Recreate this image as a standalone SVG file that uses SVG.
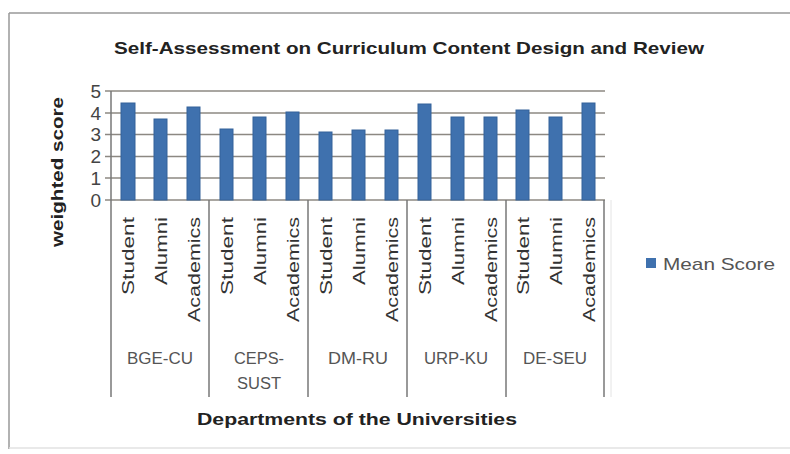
<svg xmlns="http://www.w3.org/2000/svg" width="790" height="454" viewBox="0 0 790 454">
<style>
.t{font-family:"Liberation Sans",Arial,sans-serif;fill:#222;font-weight:bold}
.ax{font-family:"Liberation Sans",Arial,sans-serif;fill:#444;font-size:19px}
.cat{font-family:"Liberation Sans",Arial,sans-serif;fill:#333;font-size:17px}
.grp{font-family:"Liberation Sans",Arial,sans-serif;fill:#555;font-size:16px;text-anchor:middle}
.grid{stroke:#8c8882;stroke-width:1.6}
.sep{stroke:#777;stroke-width:1.5}
.bar{fill:#3f71ae;stroke:#35629a;stroke-width:1}
</style>
<rect x="0" y="0" width="790" height="454" fill="#fff"/>
<g id="frame">
<line x1="9" y1="13" x2="790" y2="13" stroke="#999" stroke-width="1.5"/>
<line x1="9" y1="13" x2="9" y2="449" stroke="#999" stroke-width="1.5"/>
<line x1="9" y1="448" x2="790" y2="448" stroke="#e2e2e2" stroke-width="1.5"/>
</g>
<g id="title">
<text class="t" x="409" y="54" font-size="17" text-anchor="middle" textLength="590" lengthAdjust="spacingAndGlyphs">Self-Assessment on Curriculum Content Design and Review</text>
</g>
<g id="y-axis">
<text class="t" font-size="16" text-anchor="middle" transform="translate(63,172) rotate(-90)" textLength="150" lengthAdjust="spacingAndGlyphs">weighted score</text>
<text class="ax" x="101" y="98" text-anchor="end">5</text>
<text class="ax" x="101" y="120" text-anchor="end">4</text>
<text class="ax" x="101" y="141" text-anchor="end">3</text>
<text class="ax" x="101" y="163" text-anchor="end">2</text>
<text class="ax" x="101" y="185" text-anchor="end">1</text>
<text class="ax" x="101" y="207" text-anchor="end">0</text>
</g>
<g id="grid">
<line class="grid" x1="105" y1="91" x2="605" y2="91"/>
<line class="grid" x1="105" y1="113" x2="605" y2="113"/>
<line class="grid" x1="105" y1="134.5" x2="605" y2="134.5"/>
<line class="grid" x1="105" y1="156.5" x2="605" y2="156.5"/>
<line class="grid" x1="105" y1="178" x2="605" y2="178"/>
<line class="grid" x1="105" y1="200" x2="605" y2="200"/>
</g>
<g id="bars">
<rect class="bar" x="121" y="103" width="14" height="97"/>
<rect class="bar" x="154" y="119" width="13" height="81"/>
<rect class="bar" x="187" y="107" width="13" height="93"/>
<rect class="bar" x="220" y="129" width="13" height="71"/>
<rect class="bar" x="253" y="117" width="13" height="83"/>
<rect class="bar" x="286" y="112" width="13" height="88"/>
<rect class="bar" x="319" y="132" width="13" height="68"/>
<rect class="bar" x="352" y="130" width="13" height="70"/>
<rect class="bar" x="385" y="130" width="13" height="70"/>
<rect class="bar" x="418" y="104" width="13" height="96"/>
<rect class="bar" x="451" y="117" width="13" height="83"/>
<rect class="bar" x="484" y="117" width="13" height="83"/>
<rect class="bar" x="516" y="110" width="13" height="90"/>
<rect class="bar" x="549" y="117" width="13" height="83"/>
<rect class="bar" x="582" y="103" width="13" height="97"/>
</g>
<g id="separators">
<line class="sep" x1="111" y1="91" x2="111" y2="397"/>
<line class="sep" x1="209" y1="200" x2="209" y2="397"/>
<line class="sep" x1="308" y1="200" x2="308" y2="397"/>
<line class="sep" x1="407" y1="200" x2="407" y2="397"/>
<line class="sep" x1="506" y1="200" x2="506" y2="397"/>
<line class="sep" x1="604" y1="200" x2="604" y2="397"/>
<line x1="611" y1="200" x2="611" y2="397" stroke="#e4e4e4" stroke-width="1"/>
</g>
<g id="category-labels">
<text class="cat" text-anchor="end" transform="translate(134,217) rotate(-90)" textLength="78" lengthAdjust="spacingAndGlyphs">Student</text>
<text class="cat" text-anchor="end" transform="translate(167,217) rotate(-90)" textLength="68" lengthAdjust="spacingAndGlyphs">Alumni</text>
<text class="cat" text-anchor="end" transform="translate(200,217) rotate(-90)" textLength="105" lengthAdjust="spacingAndGlyphs">Academics</text>
<text class="cat" text-anchor="end" transform="translate(233,217) rotate(-90)" textLength="78" lengthAdjust="spacingAndGlyphs">Student</text>
<text class="cat" text-anchor="end" transform="translate(266,217) rotate(-90)" textLength="68" lengthAdjust="spacingAndGlyphs">Alumni</text>
<text class="cat" text-anchor="end" transform="translate(299,217) rotate(-90)" textLength="105" lengthAdjust="spacingAndGlyphs">Academics</text>
<text class="cat" text-anchor="end" transform="translate(332,217) rotate(-90)" textLength="78" lengthAdjust="spacingAndGlyphs">Student</text>
<text class="cat" text-anchor="end" transform="translate(365,217) rotate(-90)" textLength="68" lengthAdjust="spacingAndGlyphs">Alumni</text>
<text class="cat" text-anchor="end" transform="translate(398,217) rotate(-90)" textLength="105" lengthAdjust="spacingAndGlyphs">Academics</text>
<text class="cat" text-anchor="end" transform="translate(431,217) rotate(-90)" textLength="78" lengthAdjust="spacingAndGlyphs">Student</text>
<text class="cat" text-anchor="end" transform="translate(464,217) rotate(-90)" textLength="68" lengthAdjust="spacingAndGlyphs">Alumni</text>
<text class="cat" text-anchor="end" transform="translate(497,217) rotate(-90)" textLength="105" lengthAdjust="spacingAndGlyphs">Academics</text>
<text class="cat" text-anchor="end" transform="translate(529,217) rotate(-90)" textLength="78" lengthAdjust="spacingAndGlyphs">Student</text>
<text class="cat" text-anchor="end" transform="translate(562,217) rotate(-90)" textLength="68" lengthAdjust="spacingAndGlyphs">Alumni</text>
<text class="cat" text-anchor="end" transform="translate(595,217) rotate(-90)" textLength="105" lengthAdjust="spacingAndGlyphs">Academics</text>
</g>
<g id="group-labels">
<text class="grp" x="160" y="364" textLength="66" lengthAdjust="spacingAndGlyphs">BGE-CU</text>
<text class="grp" x="259" y="364" textLength="50" lengthAdjust="spacingAndGlyphs">CEPS-</text>
<text class="grp" x="259" y="389" textLength="44" lengthAdjust="spacingAndGlyphs">SUST</text>
<text class="grp" x="358" y="364" textLength="60" lengthAdjust="spacingAndGlyphs">DM-RU</text>
<text class="grp" x="456" y="364" textLength="64" lengthAdjust="spacingAndGlyphs">URP-KU</text>
<text class="grp" x="555" y="364" textLength="64" lengthAdjust="spacingAndGlyphs">DE-SEU</text>
</g>
<g id="x-axis-title">
<text class="t" x="357" y="425" font-size="17" text-anchor="middle" textLength="320" lengthAdjust="spacingAndGlyphs">Departments of the Universities</text>
</g>
<g id="legend">
<rect x="646" y="258" width="10" height="10" fill="#3f71ae"/>
<text x="663" y="270" font-family="'Liberation Sans',Arial,sans-serif" font-size="17" fill="#555" textLength="112" lengthAdjust="spacingAndGlyphs">Mean Score</text>
</g>
</svg>
